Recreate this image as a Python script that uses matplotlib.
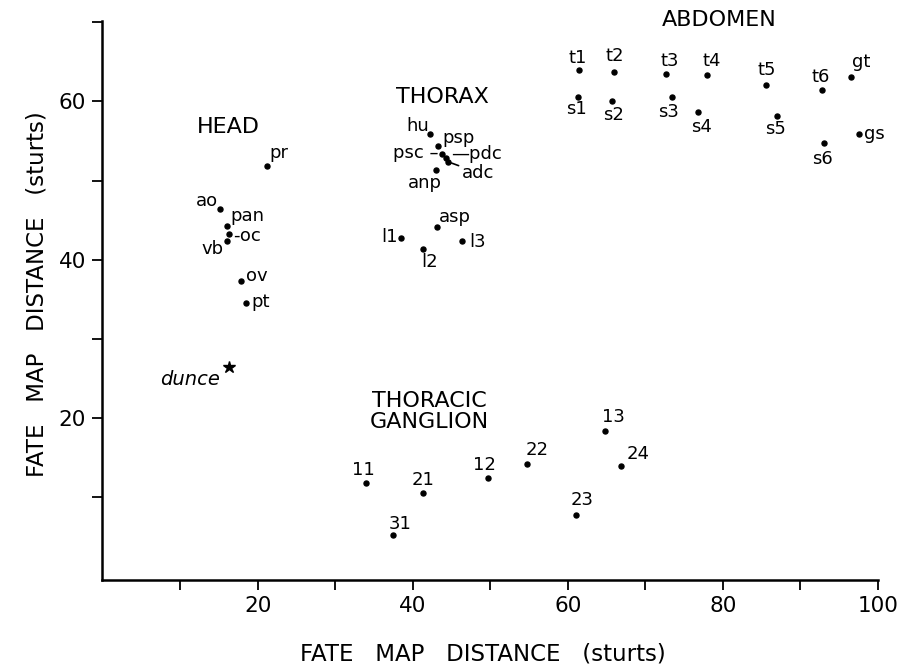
import matplotlib
matplotlib.use("Agg")
import matplotlib.pyplot as plt

# fate map positions (sturts)
head_names = ["pr", "ao", "pan", "-oc", "vb", "ov", "pt"]
head_x = [21.2, 15.1, 16.0, 16.3, 16.1, 17.8, 18.5]
head_y = [51.9, 46.4, 44.3, 43.2, 42.4, 37.3, 34.5]

thorax_names = ["hu", "psp", "psc \u2013", "\u2014pdc", "adc", "anp", "asp", "l1", "l2", "l3"]
thorax_x = [42.2, 43.3, 43.8, 44.3, 44.5, 43.0, 43.1, 38.5, 41.3, 46.3]
thorax_y = [55.9, 54.4, 53.4, 52.9, 52.4, 51.4, 44.1, 42.7, 41.3, 42.4]

abdomen_names = ["t1", "t2", "t3", "t4", "t5", "t6", "gt",
                 "s1", "s2", "s3", "s4", "s5", "s6", "gs"]
abdomen_x = [61.5, 66.0, 72.7, 77.9, 85.5, 92.8, 96.5,
             61.3, 65.7, 73.4, 76.8, 87.0, 93.0, 97.6]
abdomen_y = [64.0, 63.7, 63.5, 63.3, 62.1, 61.5, 63.1,
             60.6, 60.0, 60.6, 58.7, 58.2, 54.7, 55.9]

ganglion_names = ["11", "21", "31", "12", "22", "13", "24", "23"]
ganglion_x = [34.0, 41.3, 37.5, 49.7, 54.7, 64.8, 66.9, 61.0]
ganglion_y = [11.8, 10.6, 5.2, 12.4, 14.2, 18.4, 14.0, 7.7]

dunce_x = [16.3]
dunce_y = [26.5]

# region titles
region_names = ["HEAD", "THORAX", "ABDOMEN", "THORACIC\nGANGLION"]
region_x = [16.2, 43.9, 79.5, 42.2]
region_y = [56.8, 60.5, 70.3, 20.8]

# label offsets from the dot, in pixels (dx, dy, ha)
offsets = {
    "pr": (12, 13, "center"), "ao": (-13, 8, "center"), "pan": (21, 10, "center"),
    "-oc": (4, -2, "left"), "vb": (-15, -8, "center"), "ov": (16, 5, "center"),
    "pt": (15, 1, "center"),
    "hu": (-12, 8, "center"), "psp": (20, 8, "center"), "psc \u2013": (-4, 1, "right"),
    "\u2014pdc": (5, 4, "left"), "adc": (30, -11, "center"), "anp": (-11, -13, "center"),
    "asp": (18, 10, "center"), "l1": (-12, 1, "center"), "l2": (7, -13, "center"),
    "l3": (16, -1, "center"),
    "t1": (-2, 12, "center"), "t2": (0, 16, "center"), "t3": (3, 13, "center"),
    "t4": (5, 14, "center"), "t5": (1, 15, "center"), "t6": (-1, 13, "center"),
    "gt": (10, 15, "center"), "s1": (-1, -12, "center"), "s2": (2, -14, "center"),
    "s3": (-3, -15, "center"), "s4": (3, -15, "center"), "s5": (-2, -13, "center"),
    "s6": (-1, -16, "center"), "gs": (15, 0, "center"),
    "11": (-3, 13, "center"), "21": (0, 13, "center"), "31": (7, 11, "center"),
    "12": (-3, 13, "center"), "22": (10, 14, "center"), "13": (8, 14, "center"),
    "24": (17, 12, "center"), "23": (7, 15, "center"),
}

plt.rcParams["font.family"] = "DejaVu Sans"

fig = plt.figure(figsize=(9.07, 6.67), dpi=100)
ax = fig.add_axes([0.113, 0.131, 0.855, 0.838])

groups = [(head_names, head_x, head_y), (thorax_names, thorax_x, thorax_y),
          (abdomen_names, abdomen_x, abdomen_y), (ganglion_names, ganglion_x, ganglion_y)]

for names, xs, ys in groups:
    ax.plot(xs, ys, "o", color="black", ms=3.6, ls="none")
    for n, x, y in zip(names, xs, ys):
        dx, dy, ha = offsets[n]
        kw = {}
        if n == "adc":
            kw["arrowprops"] = dict(arrowstyle="-", color="black", lw=1.2,
                                    shrinkA=9, shrinkB=3)
        ax.annotate(n, (x, y), xytext=(dx, dy), textcoords="offset pixels",
                    ha=ha, va="center", fontsize=13, **kw)

ax.plot(dunce_x, dunce_y, "*", color="black", ms=9)
ax.annotate("dunce", (dunce_x[0], dunce_y[0]), xytext=(-39, -13),
            textcoords="offset pixels", ha="center", va="center",
            fontsize=14, style="italic")

for t, x, y in zip(region_names, region_x, region_y):
    ax.text(x, y, t, ha="center", va="center", fontsize=16,
            linespacing=1.05, clip_on=False)

ax.set_xlim(0, 100)
ax.set_ylim(-0.4, 70.2)
ax.set_xticks(range(10, 101, 10))
ax.set_xticklabels(["" if v % 20 else str(v) for v in range(10, 101, 10)])
ax.set_yticks(range(10, 71, 10))
ax.set_yticklabels(["" if v % 20 else str(v) for v in range(10, 71, 10)])
ax.tick_params(direction="out", length=7, width=1.3, labelsize=15.5, pad=5)

for s in ["top", "right"]:
    ax.spines[s].set_visible(False)
for s in ["left", "bottom"]:
    ax.spines[s].set_linewidth(1.8)

ax.set_xlabel("FATE   MAP   DISTANCE   (sturts)", fontsize=16.5)
ax.set_ylabel("FATE   MAP   DISTANCE   (sturts)", fontsize=16.5)
ax.xaxis.set_label_coords(0.49, -0.112)
ax.yaxis.set_label_coords(-0.07, 0.51)

fig.savefig("out.png", dpi=100)
